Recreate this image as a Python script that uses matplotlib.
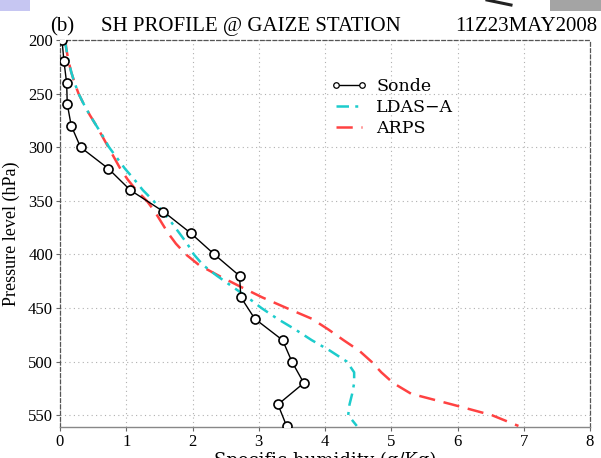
import matplotlib
matplotlib.use('Agg')
import matplotlib.pyplot as plt
from matplotlib.patches import Rectangle
from matplotlib.lines import Line2D

# sonde observations (every 20 hPa)
sonde_p = [200, 220, 240, 260, 280, 300, 320, 340, 360, 380, 400,
           420, 440, 460, 480, 500, 520, 540, 560]
sonde_q = [0.03, 0.06, 0.10, 0.11, 0.17, 0.31, 0.73, 1.06, 1.56, 1.97, 2.33,
           2.71, 2.73, 2.94, 3.36, 3.50, 3.68, 3.29, 3.42]

# model profiles (every 10 hPa)
model_p = [200, 210, 220, 230, 240, 250, 260, 270, 280, 290, 300, 310, 320,
           330, 340, 350, 360, 370, 380, 390, 400, 410, 420, 430, 440, 450,
           460, 470, 480, 490, 500, 510, 520, 530, 540, 550, 560]
ldas_q = [0.07, 0.10, 0.13, 0.17, 0.22, 0.28, 0.36, 0.45, 0.55, 0.65, 0.74,
          0.86, 0.98, 1.12, 1.25, 1.41, 1.55, 1.68, 1.80, 1.92, 2.02, 2.16,
          2.37, 2.60, 2.83, 3.04, 3.28, 3.55, 3.80, 4.08, 4.33, 4.44, 4.44,
          4.41, 4.37, 4.35, 4.48]
arps_q = [0.08, 0.10, 0.13, 0.17, 0.22, 0.28, 0.36, 0.45, 0.55, 0.64, 0.73,
          0.82, 0.91, 1.02, 1.15, 1.31, 1.43, 1.53, 1.63, 1.75, 1.90, 2.10,
          2.40, 2.72, 3.05, 3.42, 3.80, 4.05, 4.28, 4.52, 4.70, 4.85, 5.03,
          5.30, 5.92, 6.52, 6.92]

xticks = [0, 1, 2, 3, 4, 5, 6, 7, 8]
yticks = [200, 250, 300, 350, 400, 450, 500, 550]

plt.rcParams['font.family'] = ['Liberation Serif', 'DejaVu Serif']
wide = ['DejaVu Serif']

W, H = 601, 458
fig = plt.figure(figsize=(W / 100, H / 100), dpi=100)
ax = fig.add_axes([60 / W, 1 - 427 / H, 530 / W, 387 / H])

cyan = '#1ccccc'
red = '#ff4242'

ax.plot(arps_q, model_p, color=red, lw=1.8, dashes=(6.5, 3.5), label='ARPS', zorder=3)
ax.plot(ldas_q, model_p, color=cyan, lw=1.8, dashes=(5, 2.5, 1.2, 2.5),
        label='LDAS\u2212A', zorder=3)
ax.plot(sonde_q, sonde_p, color='black', lw=1.0, marker='o', ms=6.5,
        mfc='white', mec='black', mew=1.2, label='Sonde', zorder=4)

ax.set_xlim(0, 8)
ax.set_ylim(561, 200)
ax.set_xticks(xticks)
ax.set_yticks(yticks)
ax.tick_params(axis='both', direction='out', length=3, width=0.8,
               color='#666666', labelsize=12, pad=2)
ax.grid(True, color='#b0b0b0', lw=0.8, linestyle=(0, (1, 3)))

for side in ['top', 'left', 'right']:
    ax.spines[side].set_linestyle((0, (3, 2)))
    ax.spines[side].set_color('#555555')
    ax.spines[side].set_linewidth(0.9)
ax.spines['bottom'].set_color('#888888')
ax.spines['bottom'].set_linewidth(1.0)

ax.set_xlabel('Specific humidity (g/Kg)', fontsize=13, family=wide, labelpad=1)
ax.set_ylabel('Pressure level (hPa)', fontsize=13, labelpad=6)

# legend: Sonde, LDAS-A, ARPS
h, l = ax.get_legend_handles_labels()
leg = fig.legend([h[2], h[1], h[0]], [l[2], l[1], l[0]],
                 loc='upper left', bbox_to_anchor=(331 / W, 1 - 78 / H),
                 frameon=False, prop={'family': wide, 'size': 12.5},
                 handlelength=2.1, handletextpad=0.5, labelspacing=0.24,
                 borderpad=0, borderaxespad=0, numpoints=2)
leg.legend_handles[0].set_markersize(4)
leg.legend_handles[0].set_markeredgewidth(0.9)

# title
fig.text(50 / W, 1 - 31 / H, '(b)', fontsize=15, ha='left', va='baseline')
fig.text(101 / W, 1 - 31 / H, 'SH PROFILE @ GAIZE STATION', fontsize=15,
         ha='left', va='baseline')
fig.text(597 / W, 1 - 31 / H, '11Z23MAY2008', fontsize=15, ha='right',
         va='baseline')

# screenshot leftovers at the top edge
fig.add_artist(Rectangle((0, 1 - 11 / H), 30 / W, 11 / H,
                         transform=fig.transFigure, color='#c6c6f2', lw=0))
fig.add_artist(Rectangle((550 / W, 1 - 11 / H), 51 / W, 11 / H,
                         transform=fig.transFigure, color='#a4a4a4', lw=0))
fig.add_artist(Line2D([487 / W, 511 / W], [1.0, 1 - 5 / H],
                      transform=fig.transFigure, color='#222222', lw=2.2))

fig.savefig('out.png', dpi=100)
